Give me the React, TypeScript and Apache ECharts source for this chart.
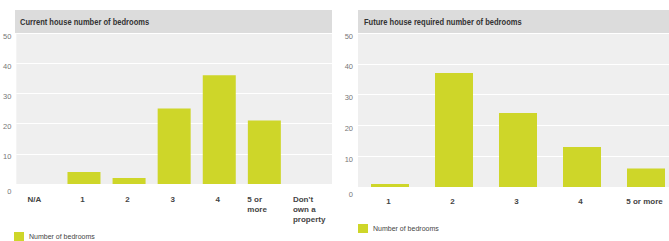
import React, { useEffect, useRef } from "react";
import * as echarts from "echarts";

const currentCategories = ["N/A", "1", "2", "3", "4", "5 or\nmore", "Don't\nown a\nproperty"];
const currentValues = [0, 4, 2, 25, 36, 21, 0];
const futureCategories = ["1", "2", "3", "4", "5 or more"];
const futureValues = [1, 37, 24, 13, 6];
const yTicks = [0, 10, 20, 30, 40, 50];
const leftTitle = "Current house number of bedrooms";
const rightTitle = "Future house required number of bedrooms";
const seriesName = "Number of bedrooms";

const FONT = "'Liberation Sans', Arial, sans-serif";
const BAR = "#ced629";

export default function App() {
  const ref = useRef<HTMLDivElement>(null);
  useEffect(() => {
    if (!ref.current) return;
    const chart = echarts.init(ref.current, undefined, { renderer: "svg" });
    const catLabelBase = {
      fontFamily: FONT,
      fontSize: 8,
      fontWeight: "bold" as const,
      color: "#444",
      lineHeight: 10,
    };
    const yAxisCommon = (gridIndex: number) => ({
      type: "value" as const,
      gridIndex,
      min: yTicks[0],
      max: yTicks[yTicks.length - 1],
      interval: 10,
      axisLine: { show: false },
      axisTick: { show: false },
      splitLine: { show: true, lineStyle: { color: "#ffffff", width: 1 } },
      axisLabel: {
        fontFamily: FONT,
        fontSize: 7.5,
        color: "#777",
        margin: 5,
        padding: [6, 0, 0, 0],
        formatter: (v: number) => (v === 0 ? "{z|0}" : String(v)),
        rich: {
          z: { fontFamily: FONT, fontSize: 7.5, color: "#777", padding: [8, 0, 0, 0] },
        },
      },
    });
    const legendCommon = {
      padding: 0, itemWidth: 10, itemHeight: 9, icon: "rect",
      data: [seriesName],
      textStyle: { fontFamily: FONT, fontSize: 7, color: "#444" },
      selectedMode: false,
    };
    chart.setOption({
      animation: false,
      graphic: [
        { type: "rect", shape: { x: 15, y: 10, width: 317, height: 23 }, style: { fill: "#dcdcdc" }, silent: true },
        { type: "rect", shape: { x: 358, y: 10, width: 330, height: 23 }, style: { fill: "#dcdcdc" }, silent: true },
        {
          type: "text", x: 20, y: 21.5, scaleX: 0.84,
          style: { text: leftTitle, fontFamily: FONT, fontSize: 9, fontWeight: "bold", fill: "#333", verticalAlign: "middle" },
        },
        {
          type: "text", x: 364, y: 21.5, scaleX: 0.84,
          style: { text: rightTitle, fontFamily: FONT, fontSize: 9, fontWeight: "bold", fill: "#333", verticalAlign: "middle" },
        },
      ],
      legend: [
        { ...legendCommon, left: 14, top: 232 },
        { ...legendCommon, left: 358, top: 224 },
      ],
      grid: [
        { left: 15, top: 33, width: 317, height: 151, show: true, backgroundColor: "#efefef", borderWidth: 0 },
        { left: 358, top: 33, width: 320, height: 154, show: true, backgroundColor: "#efefef", borderWidth: 0 },
      ],
      xAxis: [
        {
          type: "category", gridIndex: 0, data: currentCategories,
          axisLine: { show: false }, axisTick: { show: false },
          axisLabel: {
            ...catLabelBase,
            margin: 10,
            interval: 0,
            padding: [0, 3, 0, 0],
            formatter: (v: string) => {
              if (v.includes("\n")) {
                const key = v.startsWith("5") ? "m" : "d";
                return v.split("\n").map((l) => `{${key}|${l}}`).join("\n");
              }
              if (v === "N/A") return `{n|${v}}`;
              return v;
            },
            rich: {
              m: { ...catLabelBase, width: 31, align: "left" },
              d: { ...catLabelBase, width: 30, align: "left" },
              n: { ...catLabelBase, width: 20, align: "left" },
            },
          },
        },
        {
          type: "category", gridIndex: 1, data: futureCategories,
          axisLine: { show: false }, axisTick: { show: false },
          axisLabel: { ...catLabelBase, margin: 9, interval: 0, padding: [0, 3, 0, 0] },
        },
      ],
      yAxis: [yAxisCommon(0), yAxisCommon(1)],
      series: [
        {
          name: seriesName, type: "bar", xAxisIndex: 0, yAxisIndex: 0,
          data: currentValues, barWidth: 33, itemStyle: { color: BAR },
        },
        {
          name: seriesName, type: "bar", xAxisIndex: 1, yAxisIndex: 1,
          data: futureValues, barWidth: 38, itemStyle: { color: BAR },
        },
      ],
    });
    return () => chart.dispose();
  }, []);
  return (
    <div style={{ position: "fixed", left: 0, top: 0, width: 669, height: 241, overflow: "hidden", background: "#fff" }}>
      <div ref={ref} style={{ width: 690, height: 241 }} />
    </div>
  );
}
